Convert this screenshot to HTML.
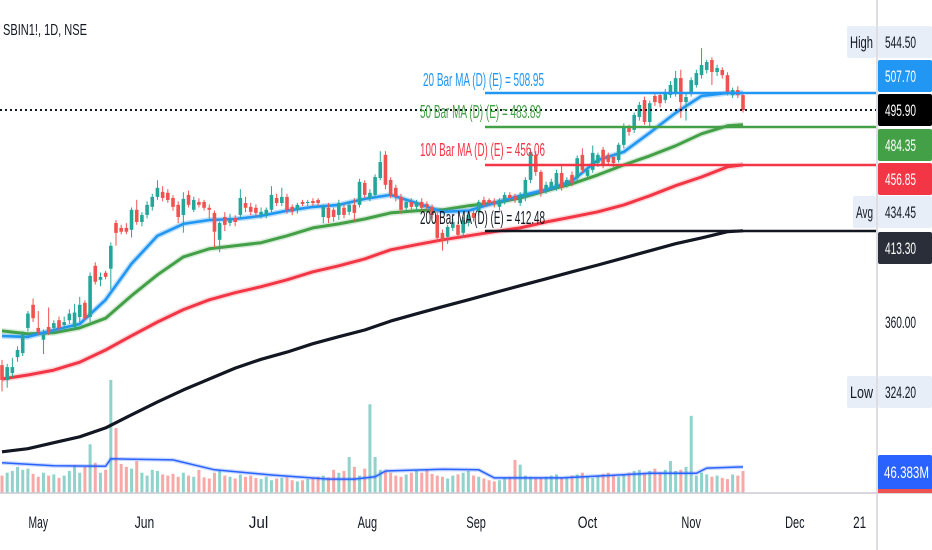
<!DOCTYPE html>
<html><head><meta charset="utf-8">
<style>
html,body{margin:0;padding:0;background:#fff;}
svg{display:block;font-family:"Liberation Sans",sans-serif;}
</style></head>
<body>
<svg id="chart" width="932" height="550" viewBox="0 0 932 550" xmlns="http://www.w3.org/2000/svg">
  <rect x="0" y="0" width="932" height="550" fill="#ffffff"/>
  <g id="vol"></g>
  <g id="mas"></g>
  <g id="candles"></g>
  <line x1="0" y1="110" x2="876" y2="110" stroke="#131722" stroke-width="2" stroke-dasharray="2 3"/>
  <g id="malines"></g>
  <text x="3" y="35" font-size="16" fill="#131722" textLength="84" lengthAdjust="spacingAndGlyphs">SBIN1!, 1D, NSE</text>
  <line x1="0" y1="493" x2="932" y2="493" stroke="#c8cbd2" stroke-width="1.5"/>
  <line x1="877" y1="0" x2="877" y2="550" stroke="#d1d4dc" stroke-width="1.5"/>
  <g id="paxis"></g>
  <g id="taxis"></g>
</svg>
<script>
const opens=[337.3,329.8,333.3,341.4,343.5,356.8,369.5,356.8,350.5,357.3,356.8,361.0,358.4,361.0,357.3,362.7,370.6,362.7,391.9,383.7,387.8,390.2,418.1,415.0,415.0,413.8,426.5,418.7,423.2,428.4,434.9,438.2,437.6,434.2,429.7,423.2,436.2,426.5,431.6,431.6,427.8,424.5,407.6,421.9,418.1,421.3,423.2,430.9,
428.4,427.8,423.2,423.2,426.5,434.2,430.9,434.9,428.4,426.5,431.6,430.9,432.2,432.9,421.9,427.8,426.5,423.2,427.8,425.2,429.7,429.7,444.2,434.2,436.2,447.5,463.4,446.2,440.9,434.9,427.8,431.6,428.4,431.6,
430.3,428.4,423.2,411.9,409.5,415.0,416.9,411.9,418.1,424.5,425.2,432.9,432.9,432.2,428.4,432.9,436.2,435.6,430.9,
434.2,446.2,463.4,451.6,439.6,440.9,440.9,450.9,442.9,449.6,447.5,463.4,448.9,453.0,457.7,467.0,463.4,462.0,459.8,470.5,482.6,481.2,490.7,503.4,487.0,506.5,507.2,503.4,507.2,508.8,520.4,501.9,508.8,515.0,522.7,526.8,534.8,525.2,526.8,522.7,507.2,511.1,507.2];
const closes=[329.8,336.3,336.3,345.1,353.1,364.6,362.1,354.7,353.1,354.7,359.4,356.8,360.0,364.6,365.2,369.5,362.1,386.0,382.6,385.4,385.4,403.9,411.9,412.6,412.6,426.5,418.7,423.2,429.7,434.9,440.9,434.2,432.9,428.4,421.9,433.6,429.7,432.9,429.7,427.8,426.5,412.6,418.1,416.9,420.0,418.7,434.2,427.8,
425.2,424.5,425.2,426.5,436.2,430.9,434.9,426.5,425.2,429.7,430.3,431.6,430.9,430.9,428.4,421.3,421.9,430.9,423.2,429.7,424.5,444.9,436.2,437.6,448.2,458.4,442.9,436.2,434.9,426.5,431.6,428.4,431.6,427.8,
428.4,423.2,408.8,407.6,415.6,418.7,410.7,420.0,423.2,421.3,431.6,429.7,430.9,430.3,432.9,436.2,434.2,432.9,436.2,
446.2,465.5,451.6,437.6,442.9,444.9,450.9,440.9,446.2,444.2,461.1,453.0,453.0,464.8,463.4,456.4,458.4,457.7,470.5,483.4,479.7,492.2,499.7,487.0,501.0,501.9,501.0,509.5,515.0,520.4,501.9,505.7,518.8,524.4,530.8,533.2,525.2,528.4,522.7,509.5,511.1,507.2,495.9];
const highs=[340,338,341,347,355,366,373,366,356,368,361,363,363,367,370,374,372,388,394,388,389,406,420,417,418,428,433,425,432,437,446,442,440,436,432,438,439,435,434,433,430,426,419,425,424,423,440,435,
431,430,428,428,442,437,441,437,430,431,433,433,434,434,430,431,428,433,430,432,434,447,446,440,450,466,466,448,443,437,433,434,433,434,
432,430,425,414,417,421,419,422,425,427,433,435,434,434,434,438,438,437,438,
448,468,466,453,445,447,453,456,448,452,463,468,455,470,465,469,465,464,472,486,485,494,502,506,503,509,509,512,518,526,527,508,521,527,544.5,535,537,531,529,525,513,514,509];
const lows=[324.2,326,331,339,342,355,360,353,343,353,355,355,356,359,356,360,361,360,381,380,384,378,404,411,411,409,417,416,421,426,433,432,431,426,418,412,428,425,428,426,421,403,400,413,416,416,421,425,
423,422,421,421,425,429,429,424,423,424,429,429,429,429,418,418,419,420,421,423,419,428,434,432,434,446,440,434,432,424,426,426,426,425,
426,421,406,401,405,413,408,409,416,419,423,428,429,428,426,430,432,431,429,
432,444,449,435,437,439,439,439,441,442,445,451,447,451,455,454,456,455,458,468,477,479,488,485,484,499,498,501,505,506,490,488,506,513,520,524,515,522,520,507,505,505,494];
const volumes=[30,35,38,45,40,42,33,28,35,30,32,26,30,38,48,35,45,84,52,35,40,195,112,50,45,42,55,35,30,40,38,32,30,33,28,35,30,28,40,27,25,35,38,30,28,25,32,28,30,26,24,28,22,25,26,27,22,20,22,24,26,28,30,27,40,35,38,62,45,30,42,153,62,40,38,35,30,28,32,35,38,35,40,33,30,28,25,30,32,35,38,30,28,25,22,20,22,25,28,57,49,30,28,26,25,28,30,32,26,28,30,32,35,28,26,30,33,35,30,28,32,35,38,40,35,38,42,36,40,55,38,40,45,133,30,35,32,28,30,26,24,32,30,38];
const maIdx=[0,5,10,15,20,25,30,35,40,45,50,55,60,65,70,75,80,85,90,95,100,105,110,115,120,125,130,135,140,143];
const ma20=[352.5,352.0,355.7,358.9,372.3,393.1,410.1,417.5,420.0,420.6,422.6,425.9,428.4,429.7,433.6,436.2,430.9,425.2,425.9,430.9,435.6,439.6,445.5,459.8,465.5,479.1,493.7,506.5,508.8,508.8];
const ma50=[355.2,353.6,354.2,356.8,362.1,374.6,386.6,397.2,402.1,403.9,405.8,410.1,415.0,417.5,420.6,424.5,425.9,426.5,429.1,430.9,434.2,438.9,443.6,449.6,456.4,462.7,469.8,478.4,484.2,485.0];
const ma100=[330.3,332.3,334.8,338.8,345.1,352.6,360.0,366.8,372.3,376.3,379.7,383.7,388.4,391.9,396.0,401.5,404.6,407.6,410.1,412.6,415.0,418.7,421.9,425.2,429.7,435.6,442.3,448.2,455.1,456.4];
const ma200=[295.9,297.3,300.0,302.7,306.8,312.9,319.1,324.9,330.3,335.8,340.3,344.0,348.4,352.1,355.7,360.5,364.5,368.4,372.3,376.3,380.3,384.3,388.4,392.4,396.6,400.9,405.2,408.8,412.6,413.2];
const volMaIdx=[0,10,20,21,33,41,52,63,68,72,74,85,92,95,108,119,125,134,136,143];
const volMa=[52,47,46,59,57,40,31,24,24,28,38,41,40,26,26,31,34,34,43,45];
const monthLabels=["May","Jun","Jul","Aug","Sep","Oct","Nov","Dec","21"];
const monthBars=[7,27.5,49.5,70.5,91.5,113,133,153,165.5];

const NS="http://www.w3.org/2000/svg";
const N=closes.length;
function xOf(i){return 2+i*(741/(N-1));}
function yOf(p){return 110-662*Math.log(p/495.9);}
function yVol(v){return 493-v*0.58;}
function mk(tag,attrs,parent){const e=document.createElementNS(NS,tag);for(const k in attrs)e.setAttribute(k,attrs[k]);parent.appendChild(e);return e;}

const gV=document.getElementById('vol');
for(let i=0;i<N;i++){
  const up=closes[i]>=opens[i];
  const r=mk('rect',{x:xOf(i)-1.5,y:yVol(volumes[i]),width:3,height:493-yVol(volumes[i]),fill:up?'rgba(38,166,154,0.5)':'rgba(239,83,80,0.5)'},gV);
  
  
}
let vp=volMaIdx.map((b,k)=>xOf(b).toFixed(1)+','+yVol(volMa[k]).toFixed(1)).join(' ');
const vh=mk('polyline',{points:vp,fill:'none',stroke:'rgba(41,98,255,0.25)','stroke-width':4},gV);


const vl=mk('polyline',{points:vp,fill:'none',stroke:'#2962ff','stroke-width':1.5},gV);



const gM=document.getElementById('mas');
function maLine(vals,color,w,name,halo){
  const pts=maIdx.map((b,k)=>xOf(b).toFixed(1)+','+yOf(vals[k]).toFixed(1)).join(' ');
  if(halo){const h=mk('polyline',{points:pts,fill:'none',stroke:halo,'stroke-width':w+3,'stroke-linejoin':'round'},gM);
    
    }
  const l=mk('polyline',{points:pts,fill:'none',stroke:color,'stroke-width':w,'stroke-linejoin':'round'},gM);
  
  
}
maLine(ma200,'#131722',3.2,'ma200-line',null);
maLine(ma100,'#f23645',3,'ma100-line','rgba(242,54,69,0.2)');
maLine(ma50,'#43a047',3,'ma50-line','rgba(67,160,71,0.2)');
maLine(ma20,'#2196f3',2.6,'ma20-line','rgba(33,150,243,0.3)');

const gC=document.getElementById('candles');
for(let i=0;i<N;i++){
  const up=closes[i]>=opens[i];const col=up?'#26a69a':'#ef5350';const x=xOf(i);
  const w=mk('line',{x1:x,x2:x,y1:yOf(highs[i]),y2:yOf(lows[i]),stroke:col,'stroke-width':1},gC);
  
  
  const t=yOf(Math.max(opens[i],closes[i])),b=yOf(Math.min(opens[i],closes[i]));
  const r=mk('rect',{x:x-1.8,y:t,width:3.6,height:Math.max(1,b-t),fill:col},gC);
  
  
}

const gL=document.getElementById('malines');
const maTxt=[["20 Bar MA (D) (E) = 508.95","#2196f3",508.95,80,93,'ma20'],["50 Bar MA (D) (E) = 483.89","#43a047",483.89,112,127,'ma50'],["100 Bar MA (D) (E) = 456.06","#f23645",456.06,150,165,'ma100'],["200 Bar MA (D) (E) = 412.48","#131722",412.48,218,231,'ma200']];
maTxt.forEach(m=>{
  const ln=mk('line',{x1:485,x2:876,y1:m[4],y2:m[4],stroke:m[1],'stroke-width':2.5},gL);
  
  
  const t=mk('text',{x:m[0].startsWith('20 ')?423:420,y:m[3]+6,'font-size':18,fill:m[1],textLength:m[0].startsWith('20 ')||m[0].startsWith('50')?121:125,lengthAdjust:'spacingAndGlyphs'},gL);
  t.textContent=m[0];
  
  
});

const gP=document.getElementById('paxis');
const boxes=[["544.50",42,"#e8eef8","#131722","High"],["507.70",76,"#2196f3","#fff",null],["495.90",110,"#000000","#fff",null],["484.35",145,"#43a047","#fff",null],["456.85",179,"#f23645","#fff",null],["434.45",212,"#e8eef8","#131722","Avg"],["413.30",248,"#2a2e39","#fff",null],["360.00",322,null,"#131722",null],["324.20",392,"#e8eef8","#131722","Low"]];
boxes.forEach(b=>{
  if(b[2]){const r=mk('rect',{x:878,y:b[1]-16,width:54,height:32,fill:b[2],rx:2},gP);
    
    }
  const t=mk('text',{x:885,y:b[1]+6,'font-size':17,fill:b[3],textLength:31,lengthAdjust:'spacingAndGlyphs'},gP);
  t.textContent=b[0];
  
  
  if(b[4]){const w=b[4]==='Avg'?23:29;
    const r2=mk('rect',{x:876-w,y:b[1]-16,width:w,height:32,fill:'#e8eef8',rx:2},gP);
    
    
    const t2=mk('text',{x:876-w+3,y:b[1]+6,'font-size':17,fill:'#131722',textLength:w-6,lengthAdjust:'spacingAndGlyphs'},gP);
    t2.textContent=b[4];
    
    }
});
const vb=mk('rect',{x:878,y:455,width:54,height:35,fill:'#2962ff',rx:2},gP);


const vr=mk('rect',{x:878,y:489,width:54,height:4,fill:'#ef5350'},gP);


const vt=mk('text',{x:884,y:478,'font-size':17,fill:'#fff',textLength:45,lengthAdjust:'spacingAndGlyphs'},gP);
vt.textContent='46.383M';



const gT=document.getElementById('taxis');
monthLabels.forEach((m,k)=>{
  const x=xOf(monthBars[k]);
  const t=mk('text',{x:x,y:528,'font-size':17,fill:'#131722','text-anchor':'middle',textLength:m.length*6.5,lengthAdjust:'spacingAndGlyphs'},gT);
  t.textContent=m;
  
  
});
</script>
</body></html>
